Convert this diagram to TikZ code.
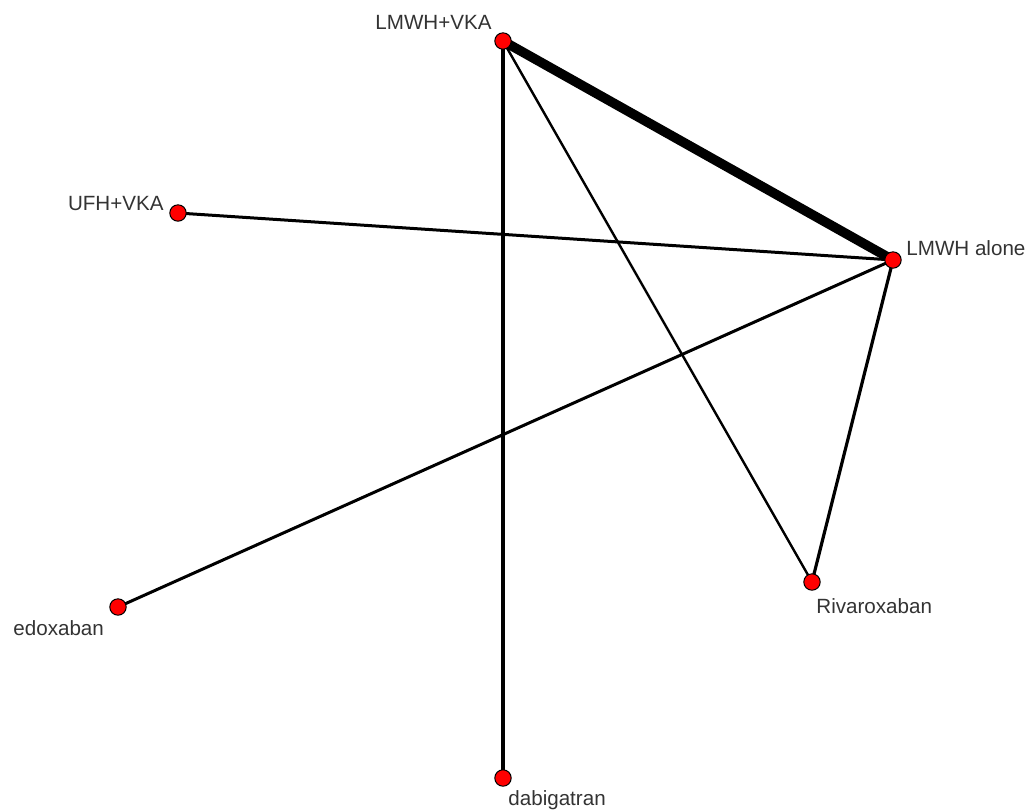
\documentclass[tikz,border=0pt]{standalone}
\usepackage{fontspec}
\setmainfont{Liberation Sans}
\usepackage{tikz}
\usetikzlibrary{positioning,backgrounds}

\begin{document}
\begin{tikzpicture}[x=0.5pt,y=-0.5pt,
  trt/.style={circle,draw=black,line width=0.5pt,fill=red,inner sep=0pt,minimum size=8.2pt},
  lbl/.style={font=\fontsize{10.3}{12}\selectfont,text=black!80,inner sep=0pt},
  cmp/.style={black,line cap=butt}]
\useasboundingbox (0,0) rectangle (1030,811);
% Treatments
\node[trt] (lv) at (503,41) {};
\node[trt] (uv) at (178,213) {};
\node[trt] (la) at (893,260) {};
\node[trt] (ed) at (118,607) {};
\node[trt] (rv) at (812,582) {};
\node[trt] (db) at (503,778) {};
% Labels
\node[lbl,anchor=base east] (lvt) at (492,29) {LMWH+VKA};
\node[lbl,anchor=base east] (uvt) at (164,210) {UFH+VKA};
\node[lbl,anchor=base west] (lat) at (906,255) {LMWH alone};
\node[lbl,anchor=base west] (edt) at (13,635) {edoxaban};
\node[lbl,anchor=base west] (rvt) at (816,613) {Rivaroxaban};
\node[lbl,anchor=base west] (dbt) at (508,805) {dabigatran};
% Comparisons
\begin{scope}[on background layer]
\draw[cmp,line width=4.8pt] (lv.center) -- (la.center);
\draw[cmp,line width=1.8pt] (lv.center) -- (db.center);
\draw[cmp,line width=1.2pt] (lv.center) -- (rv.center);
\draw[cmp,line width=1.5pt] (uv.center) -- (la.center);
\draw[cmp,line width=1.5pt] (ed.center) -- (la.center);
\draw[cmp,line width=1.6pt] (la.center) -- (rv.center);
\end{scope}
\end{tikzpicture}
\end{document}
